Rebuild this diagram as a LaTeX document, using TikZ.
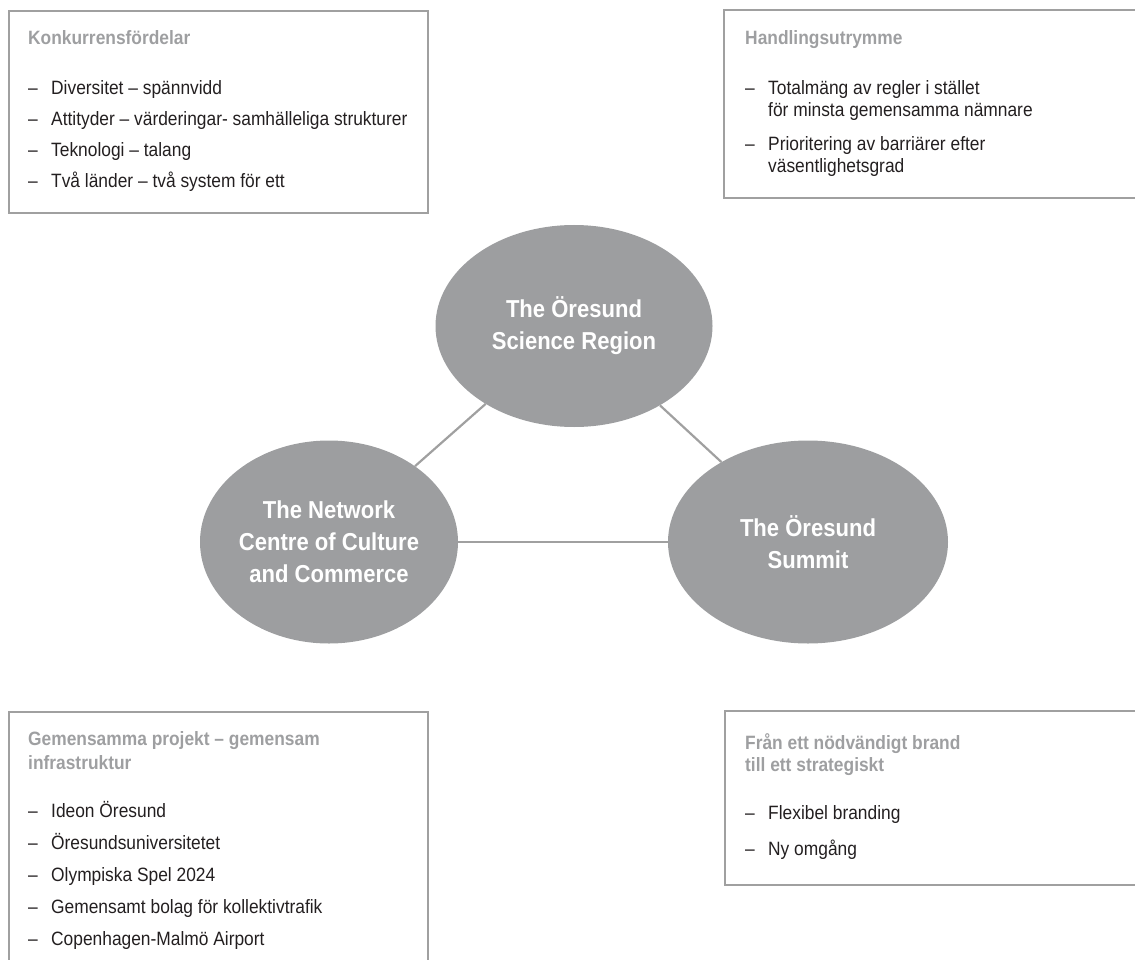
\documentclass[tikz,border=0pt]{standalone}
\usepackage{fontspec}
\setmainfont{Liberation Sans}[FakeStretch=0.9]
\usetikzlibrary{shapes.geometric}
\definecolor{ovalgray}{RGB}{157,158,160}
\definecolor{framegray}{RGB}{160,160,160}
\definecolor{headgray}{RGB}{158,159,161}
\definecolor{itemblack}{RGB}{35,31,32}
\newcommand{\boxhead}[1]{{\bfseries\color{headgray}#1}}
\newcommand{\dashitem}{\makebox[23pt][l]{–}}
\newcommand{\dashcont}{\hspace*{23pt}}
\begin{document}
\begin{tikzpicture}[x=1pt,y=-1pt,
	oval/.style={ellipse,fill=ovalgray,inner sep=0pt,text=white,align=center,
		font=\fontsize{24.5}{32}\selectfont\bfseries},
	frame/.style={draw=framegray,line width=2pt},
	link/.style={draw=framegray,line width=2.2pt},
	boxtext/.style={anchor=north west,inner sep=0pt,align=left,text=itemblack,
		font=\fontsize{19.3}{22}\selectfont}]
	\useasboundingbox (0,0) rectangle (1135,960);
	\clip (0,0) rectangle (1135,960);
	% frames, the right and lower ones run off the page
	\draw[frame] (9,11) rectangle (428,213);
	\draw[frame] (724,10) rectangle (1150,198);
	\draw[frame] (9,712) rectangle (428,975);
	\draw[frame] (725,711) rectangle (1150,885);
	% the three ovals
	\node[oval,minimum width=277pt,minimum height=202pt] (science) at (574,326) {The Öresund\\Science Region};
	\node[oval,minimum width=258pt,minimum height=203pt] (network) at (329,542) {The Network\\Centre of Culture\\and Commerce};
	\node[oval,minimum width=280pt,minimum height=203pt] (summit) at (808,542) {The Öresund\\Summit};
	\draw[link] (science) -- (network);
	\draw[link] (science) -- (summit);
	\draw[link] (network) -- (summit);
	% box texts
	\node[boxtext] (advantages) at (28,30) {\boxhead{Konkurrensfördelar}\\[28pt]
		\dashitem Diversitet – spännvidd\\[9pt]
		\dashitem Attityder – värderingar- samhälleliga strukturer\\[9pt]
		\dashitem Teknologi – talang\\[9pt]
		\dashitem Två länder – två system för ett};
	\node[boxtext] (scope) at (745,30) {\boxhead{Handlingsutrymme}\\[28pt]
		\dashitem Totalmäng av regler i stället\\
		\dashcont för minsta gemensamma nämnare\\[12pt]
		\dashitem Prioritering av barriärer efter\\
		\dashcont väsentlighetsgrad};
	\node[boxtext] (projects) at (28,731) {\boxhead{Gemensamma projekt – gemensam}\\[2pt]
		\boxhead{infrastruktur}\\[26pt]
		\dashitem Ideon Öresund\\[10pt]
		\dashitem Öresundsuniversitetet\\[10pt]
		\dashitem Olympiska Spel 2024\\[10pt]
		\dashitem Gemensamt bolag för kollektivtrafik\\[10pt]
		\dashitem Copenhagen-Malmö Airport};
	\node[boxtext] (brand) at (745,733) {\boxhead{Från ett nödvändigt brand}\\
		\boxhead{till ett strategiskt}\\[26pt]
		\dashitem Flexibel branding\\[14pt]
		\dashitem Ny omgång};
\end{tikzpicture}
\end{document}
